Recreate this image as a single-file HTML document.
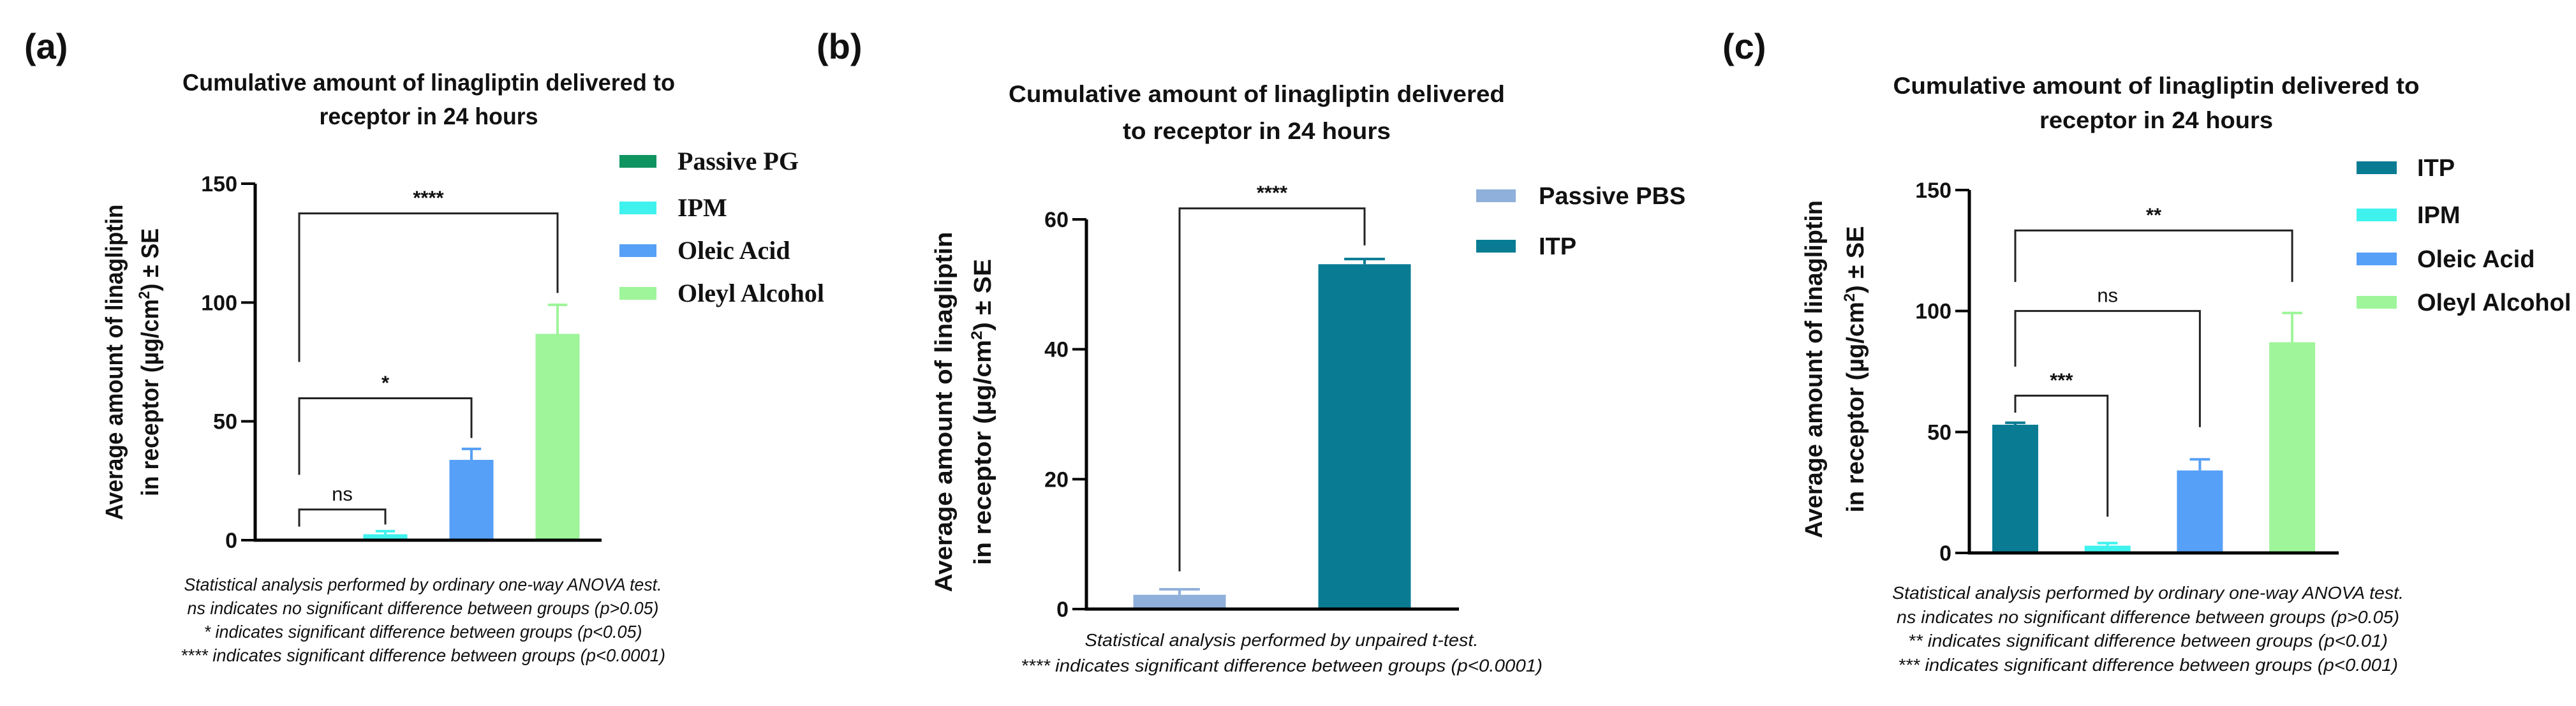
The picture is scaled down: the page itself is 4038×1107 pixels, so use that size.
<!DOCTYPE html>
<html><head><meta charset="utf-8"><style>
html,body{margin:0;padding:0;background:#fff;overflow:hidden;}
svg{display:block;}
text{font-family:"Liberation Sans",sans-serif;fill:#111;}
.ti{font-weight:bold;font-size:37px;}
.tk{font-weight:bold;font-size:34px;}
.yl{font-weight:bold;font-size:38px;}
.fn{font-style:italic;font-size:28px;}
.lg{font-weight:bold;font-size:38px;}
.lgs{font-family:"Liberation Serif",serif;font-weight:bold;font-size:40px;}
.pl{font-weight:bold;font-size:56px;}
.st{font-size:31px;}
</style></head><body>
<svg id="root" width="4038" height="1107" viewBox="0 0 4038 1107" xmlns="http://www.w3.org/2000/svg">
<rect width="4038" height="1107" fill="#fff"/>
<text class="pl" x="38" y="92">(a)</text>
<text class="pl" x="1280" y="92">(b)</text>
<text class="pl" x="2700" y="92">(c)</text>
</svg>
<script>
// Panel A data
const catsA = ["Passive PG","IPM","Oleic Acid","Oleyl Alcohol"];
const valsA = [0, 2.5, 33.8, 86.8];
const errA = [0, 1.3, 4.6, 12.2];
const ticksA = [0,50,100,150];
// Panel B data
const catsB = ["Passive PBS","ITP"];
const valsB = [2.2, 53.1];
const errB = [0.85, 0.8];
const ticksB = [0,20,40,60];
// Panel C data
const catsC = ["ITP","IPM","Oleic Acid","Oleyl Alcohol"];
const valsC = [53.0, 3.0, 34.1, 87.1];
const errC = [0.8, 1.1, 4.6, 12.1];
const ticksC = [0,50,100,150];
// significance brackets: [fromIdx, toIdx, y, leftDrop, rightDrop, label]
const sigA = [[0,3,137.5,75,104,"****"],[0,2,59.7,27.5,43,"*"],[0,1,12.9,5.7,6.6,"ns"]];
const sigB = [[0,1,61.7,5.8,56,"****"]];
const sigC = [[0,3,133.3,112,112,"**"],[0,2,100,77,52,"ns"],[0,1,65,58,15,"***"]];

const NS="http://www.w3.org/2000/svg";
const root=document.getElementById('root');
function mk(tag,attrs,parent,txt){const e=document.createElementNS(NS,tag);for(const k in attrs)e.setAttribute(k,attrs[k]);if(txt!==undefined)e.textContent=txt;(parent||root).appendChild(e);return e;}

const panels=[
 {id:'a',cats:catsA,vals:valsA,errs:errA,ticks:ticksA,sig:sigA,colors:["#0f9460","#3ff2ee","#56a0f7","#9ef59a"],
  ax:400,y0:847,ytop:288,ymax:150,xend:943,c0:469,step:135,bw:69,
  title:["Cumulative amount of linagliptin delivered to","receptor in 24 hours"],tx:672,ty:[142,195],tw:[772,343],
  yl:{x:[192,248],cy:568,w:[495,420]},
  leg:{sx:971,sw:58,tx:1062,ys:[253,326,393,460],cls:'lgs'},
  fn:["Statistical analysis performed by ordinary one-way ANOVA test.","ns indicates no significant difference between groups (p>0.05)","* indicates significant difference between groups (p<0.05)","**** indicates significant difference between groups (p<0.0001)"],
  fx:663,fy:[926,963,1000,1037],fw:[749,739,687,760]},
 {id:'b',cats:catsB,vals:valsB,errs:errB,ticks:ticksB,sig:sigB,colors:["#8fb0da","#097c94"],
  ax:1703,y0:955,ytop:344,ymax:60,xend:2287,c0:1849,step:290,bw:145,
  title:["Cumulative amount of linagliptin delivered","to receptor in 24 hours"],tx:1970,ty:[160,218],tw:[778,420],
  yl:{x:[1492,1553],cy:646,w:[565,480]},
  leg:{sx:2314,sw:62,tx:2412,ys:[307,386],cls:'lg'},
  fn:["Statistical analysis performed by unpaired t-test.","**** indicates significant difference between groups (p<0.0001)"],
  fx:2009,fy:[1013,1053],fw:[617,818]},
 {id:'c',cats:catsC,vals:valsC,errs:errC,ticks:ticksC,sig:sigC,colors:["#097c94","#3ff2ee","#56a0f7","#9ef59a"],
  ax:3087,y0:867,ytop:298,ymax:150,xend:3666,c0:3159,step:144.7,bw:72,
  title:["Cumulative amount of linagliptin delivered to","receptor in 24 hours"],tx:3380,ty:[147,201],tw:[825,366],
  yl:{x:[2856,2921],cy:579,w:[530,449]},
  leg:{sx:3694,sw:63,tx:3789,ys:[263,337,406,474],cls:'lg'},
  fn:["Statistical analysis performed by ordinary one-way ANOVA test.","ns indicates no significant difference between groups (p>0.05)","** indicates significant difference between groups (p<0.01)","*** indicates significant difference between groups (p<0.001)"],
  fx:3367,fy:[939,977,1014,1052],fw:[802,788,752,784]}
];

panels.forEach(p=>{
  const g=mk('g',{});
  
  
  const y=v=>p.y0-(v/p.ymax)*(p.y0-p.ytop);
  const x=i=>p.c0+i*p.step;
  p.title.forEach((t,i)=>{
    const e=mk('text',{class:'ti',x:p.tx,y:p.ty[i],'text-anchor':'middle',textLength:p.tw[i],lengthAdjust:'spacingAndGlyphs'},g,t);
    
    
  });
  p.vals.forEach((v,i)=>{
    const cx=x(i);
    const r=mk('rect',{x:cx-p.bw/2,y:y(v),width:p.bw,height:Math.max(0,p.y0-y(v)),fill:p.colors[i]},g);
    
    
    if(p.errs[i]>0){
      const eb=mk('path',{d:`M${cx},${y(v)}V${y(v+p.errs[i])}M${cx-p.bw*0.22},${y(v+p.errs[i])}H${cx+p.bw*0.22}`,stroke:p.colors[i],'stroke-width':4,fill:'none'},g);
      
      
    }
  });
  const axl=mk('path',{d:`M${p.ax},${y(p.ymax)}V${p.y0}H${p.xend}`,stroke:'#000','stroke-width':5,fill:'none'},g);
  
  
  p.ticks.forEach(t=>{
    const tl=mk('line',{x1:p.ax-22,x2:p.ax,y1:y(t),y2:y(t),stroke:'#000','stroke-width':4},g);
    
    
    const tt=mk('text',{class:'tk',x:p.ax-28,y:y(t)+12,'text-anchor':'end'},g,String(t));
    
    
  });
  p.sig.forEach(s=>{
    const x1=x(s[0]),x2=x(s[1]);
    const b=mk('path',{d:`M${x1},${y(s[3])}V${y(s[2])}H${x2}V${y(s[4])}`,stroke:'#222','stroke-width':3,fill:'none'},g);
    
    
    const st=mk('text',{class:'st',x:(x1+x2)/2,y:y(s[2])-14,'text-anchor':'middle','font-weight':s[5]==='ns'?'normal':'bold'},g,s[5]);
    
    
  });
  const yl1=mk('text',{class:'yl',transform:`translate(${p.yl.x[0]},${p.yl.cy}) rotate(-90)`,'text-anchor':'middle',textLength:p.yl.w[0],lengthAdjust:'spacingAndGlyphs'},g,'Average amount of linagliptin');
  
  
  const yl2=mk('text',{class:'yl',transform:`translate(${p.yl.x[1]},${p.yl.cy}) rotate(-90)`,'text-anchor':'middle',textLength:p.yl.w[1],lengthAdjust:'spacingAndGlyphs'},g);
  
  
  mk('tspan',{},yl2,'in receptor (µg/cm');
  mk('tspan',{dy:-14,'font-size':'24px'},yl2,'2');
  mk('tspan',{dy:14},yl2,') ± SE');
  p.cats.forEach((c,i)=>{
    const yy=p.leg.ys[i];
    const sw=mk('rect',{x:p.leg.sx,y:yy-10,width:p.leg.sw,height:20,fill:p.colors[i]},g);
    
    
    const lt=mk('text',{class:p.leg.cls,x:p.leg.tx,y:yy+13},g,c);
    
    
  });
  p.fn.forEach((t,i)=>{
    const f=mk('text',{class:'fn',x:p.fx,y:p.fy[i],'text-anchor':'middle',textLength:p.fw[i],lengthAdjust:'spacingAndGlyphs'},g,t);
    
    
  });
});
</script>
</body></html>
